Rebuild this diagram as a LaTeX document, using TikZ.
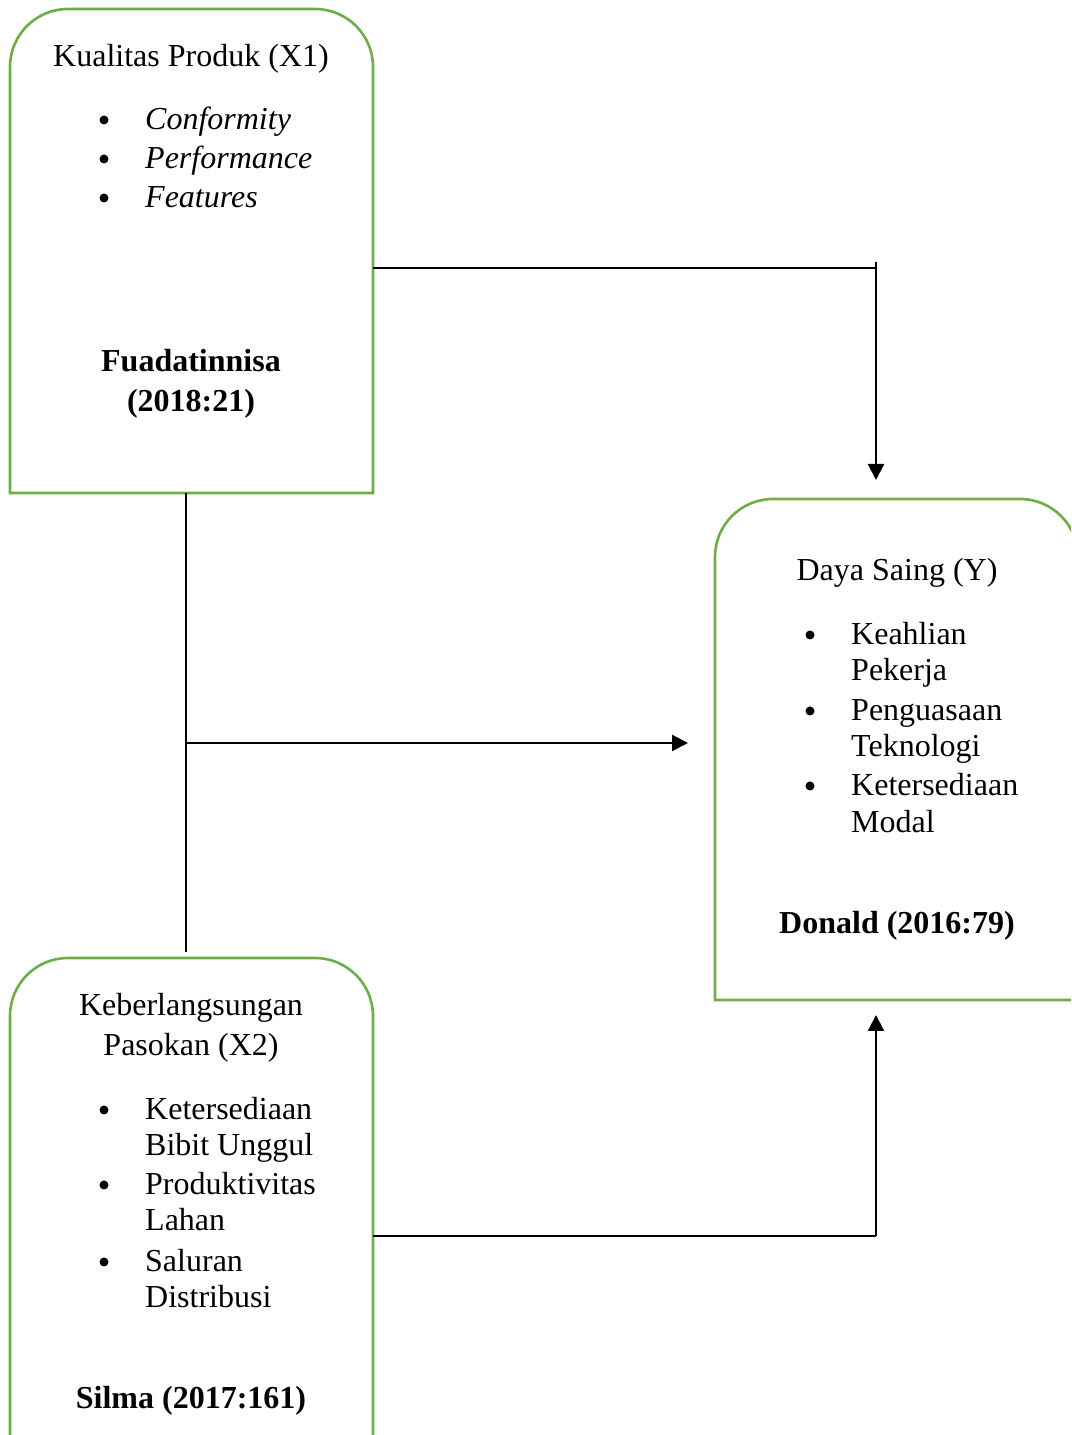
\documentclass[tikz,border=0pt]{standalone}
\usepackage{fontspec}
\setmainfont{Liberation Serif}
\usetikzlibrary{arrows.meta}
\definecolor{boxgreen}{RGB}{112,173,71}

\begin{document}
\begin{tikzpicture}[x=1pt,y=1pt,
		greenbox/.style={draw=boxgreen,line width=2.6pt},
		txt/.style={inner sep=0pt,anchor=base,font=\fontsize{32}{39}\selectfont},
		item/.style={txt,anchor=base west},
		thinline/.style={line width=1.1pt},
		arrowline/.style={line width=2.2pt,-{Triangle[length=16pt,width=16pt]}}]
		\useasboundingbox (0,0) rectangle (1071,1435);
		\clip (0,0) rectangle (1071,1435);
		% boxes, rounded on top only
		\draw[greenbox] (10,942) -- (10,1368) arc[start angle=180,end angle=90,radius=58] -- (315,1426) arc[start angle=90,end angle=0,radius=58] -- (373,942) -- cycle;
		\draw[greenbox] (715,435) -- (715,878) arc[start angle=180,end angle=90,radius=58] -- (1020,936) arc[start angle=90,end angle=0,radius=58] -- (1078,435) -- cycle;
		\draw[greenbox] (10,-10) -- (10,419) arc[start angle=180,end angle=90,radius=58] -- (315,477) arc[start angle=90,end angle=0,radius=58] -- (373,-10);
		% X1
		\node[txt] (x1title) at (191,1368) {Kualitas Produk (X1)};
		\foreach \nm/\t/\y in {conf/Conformity/1305,perf/Performance/1266,feat/Features/1227}{
			\fill (104,\y+10) circle (4.5);
			\node[item] (\nm) at (145,\y) {\textit{\t}};
		}
		\node[txt] (x1src) at (191,1063) {\textbf{Fuadatinnisa}};
		\node[txt] (x1year) at (191,1023) {\textbf{(2018:21)}};
		% Y
		\node[txt] (ytitle) at (897,854) {Daya Saing (Y)};
		\foreach \y in {790,714,639}
			\fill (810,\y+10) circle (4.5);
		\foreach \nm/\t/\y in {keah/Keahlian/790,peke/Pekerja/754,peng/Penguasaan/714,tekn/Teknologi/678,kete/Ketersediaan/639,moda/Modal/602}
			\node[item] (\nm) at (851,\y) {\t};
		\node[txt] (ysrc) at (897,501) {\textbf{Donald (2016:79)}};
		% X2
		\node[txt] (x2title) at (191,419) {Keberlangsungan};
		\node[txt] (x2title2) at (191,379) {Pasokan (X2)};
		\foreach \y in {315,240,163}
			\fill (104,\y+10) circle (4.5);
		\foreach \nm/\t/\y in {bibit1/Ketersediaan/315,bibit2/Bibit Unggul/279,prod1/Produktivitas/240,prod2/Lahan/204,salu1/Saluran/163,salu2/Distribusi/127}
			\node[item] (\nm) at (145,\y) {\t};
		\node[txt] (x2src) at (191,27) {\textbf{Silma (2017:161)}};
		% connectors
		\coordinate (x1out) at (373,1167);
		\coordinate (ybend) at (876,1167);
		\coordinate (ytop) at (876,1173);
		\coordinate (yin) at (876,955);
		\coordinate (x1foot) at (186,942);
		\coordinate (x2head) at (186,483);
		\coordinate (join) at (186,692);
		\coordinate (yleft) at (688,692);
		\coordinate (x2out) at (373,199);
		\coordinate (ylow) at (876,199);
		\coordinate (yfoot) at (876,420);
		\draw[thinline] (x1out) -- (ybend);
		\draw[arrowline] (ytop) -- (yin);
		\draw[thinline] (x1foot) -- (x2head);
		\draw[arrowline] (join) -- (yleft);
		\draw[thinline] (x2out) -- (ylow);
		\draw[arrowline] (ylow) -- (yfoot);
	\end{tikzpicture}
\end{document}
